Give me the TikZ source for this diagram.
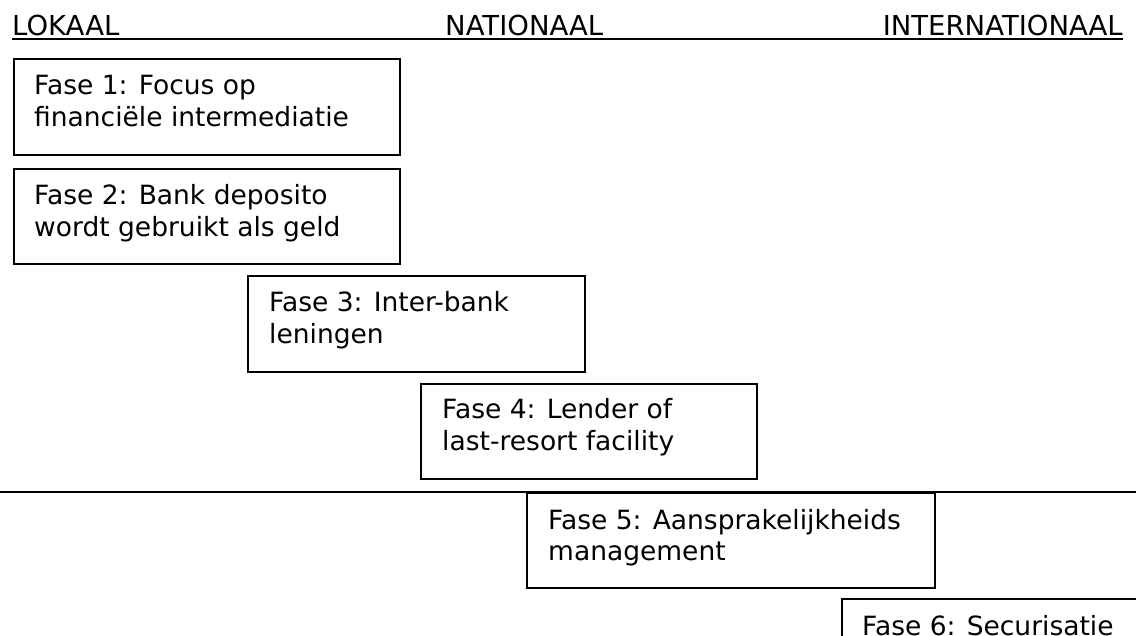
\documentclass[tikz,border=0pt]{standalone}
\usepackage{fontspec}
\setmainfont{DejaVu Sans}
\begin{document}
\begin{tikzpicture}[x=1pt,y=-1pt,
  every node/.style={font=\fontsize{26.5}{32}\selectfont, inner sep=0pt},
  heading/.style={font=\fontsize{27.5}{32}\selectfont},
  fasebox/.style={draw, line width=1.8pt, rectangle, anchor=north west, inner sep=0pt},
  fasetext/.style={anchor=base west},
  rule/.style={line width=2pt}]
  \useasboundingbox (0,0) rectangle (1136,636);
  \clip (0,0) rectangle (1136,636);

  % scale headings
  \node[heading, anchor=base west] (lok) at (12,36) {LOKAAL};
  \node[heading, anchor=base west] (nat) at (445,36) {NATIONAAL};
  \node[heading, anchor=base east] (int) at (1123,36) {INTERNATIONAAL};
  \coordinate (ulL) at (12,39);
  \coordinate (ulR) at (1123,39);
  \draw[rule] (ulL) -- (ulR);

  % phases
  \node[fasebox, minimum width=386pt, minimum height=96pt] (f1) at (13,58) {};
  \node[fasetext] (t1) at ([xshift=21pt,yshift=-37pt]f1.north west)
    {\vtop{\hbox{Fase 1: Focus op}\hbox{financiële intermediatie}}};

  \node[fasebox, minimum width=386pt, minimum height=95pt] (f2) at (13,168) {};
  \node[fasetext] (t2) at ([xshift=21pt,yshift=-37pt]f2.north west)
    {\vtop{\hbox{Fase 2: Bank deposito}\hbox{wordt gebruikt als geld}}};

  \node[fasebox, minimum width=337pt, minimum height=96pt] (f3) at (247,275) {};
  \node[fasetext] (t3) at ([xshift=22pt,yshift=-37pt]f3.north west)
    {\vtop{\hbox{Fase 3: Inter-bank}\hbox{leningen}}};

  \node[fasebox, minimum width=336pt, minimum height=95pt] (f4) at (420,383) {};
  \node[fasetext] (t4) at ([xshift=22pt,yshift=-36pt]f4.north west)
    {\vtop{\hbox{Fase 4: Lender of}\hbox{last-resort facility}}};

  % divider
  \coordinate (divL) at (0,492);
  \coordinate (divR) at (1136,492);
  \draw[rule] (divL) -- (divR);

  \node[fasebox, minimum width=408pt, minimum height=95pt] (f5) at (526,492) {};
  \node[fasetext] (t5) at ([xshift=22pt,yshift=-37pt]f5.north west)
    {\vtop{\hbox{Fase 5: Aansprakelijkheids}\hbox{management}}};

  \node[fasebox, minimum width=400pt, minimum height=95pt] (f6) at (841,598) {};
  \node[fasetext] (t6) at ([xshift=21pt,yshift=-37pt]f6.north west)
    {\vtop{\hbox{Fase 6: Securisatie}}};
\end{tikzpicture}
\end{document}
